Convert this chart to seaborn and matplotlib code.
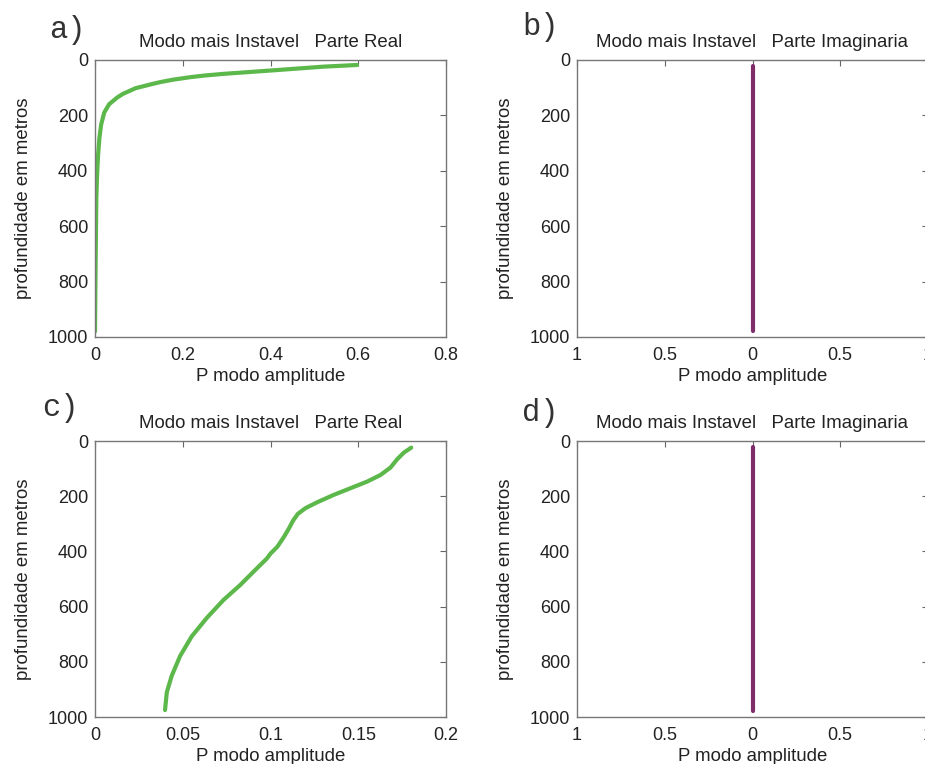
import numpy as np
import pandas as pd
import matplotlib
matplotlib.use("Agg")
import matplotlib.pyplot as plt
import seaborn as sns

# painel a) parte real, modo mais instavel
depth_a = [18, 24, 38, 50, 56, 62, 71, 80, 88, 102, 110, 122, 135, 160, 190, 233, 282,
           344, 405, 500, 650, 800, 980]
amp_a = [0.597, 0.521, 0.40, 0.293, 0.25, 0.217, 0.178, 0.148, 0.127, 0.092, 0.081,
         0.064, 0.051, 0.032, 0.021, 0.014, 0.010, 0.007, 0.005, 0.003, 0.002, 0.001, 0.0]

# painel c) parte real
depth_c = [24, 42, 66, 96, 123, 147, 171, 195, 222, 243, 264, 288, 318, 348, 384,
           408, 426, 468, 522, 576, 641, 708, 779, 851, 911, 975]
amp_c = [0.1802, 0.1760, 0.1722, 0.1684, 0.1627, 0.1551, 0.1456, 0.1361, 0.1266,
         0.1200, 0.1156, 0.1129, 0.1104, 0.1076, 0.1038, 0.1000, 0.0979, 0.0912,
         0.0827, 0.0732, 0.0637, 0.0551, 0.0485, 0.0437, 0.0409, 0.0399]

# paineis b) e d) parte imaginaria (nula)
depth_im = [20, 980]
amp_im = [0.0, 0.0]

yticks = [0, 200, 400, 600, 800, 1000]
xticks_a = [0, 0.2, 0.4, 0.6, 0.8]
xticks_c = [0, 0.05, 0.1, 0.15, 0.2]
xticks_im = [-1, -0.5, 0, 0.5, 1]
xticklabels_im = ["1", "0.5", "0", "0.5", "1"]

title_real = "Modo mais Instavel   Parte Real"
title_imag = "Modo mais Instavel   Parte Imaginaria"

sns.set_style("white")
plt.rcParams["font.family"] = ["Liberation Sans", "DejaVu Sans"]

green = "#5cb84a"
purple = "#7f2c6a"

fig = plt.figure(figsize=(9.25, 7.64), dpi=100)
W, H = 925, 764


def add_ax(left, top, right, bottom):
    return fig.add_axes([left / W, (H - bottom) / H, (right - left) / W, (bottom - top) / H])


ax_a = add_ax(95, 60, 446, 337)
ax_b = add_ax(577, 60, 928, 337)
ax_c = add_ax(95, 441, 446, 717)
ax_d = add_ax(577, 441, 928, 717)

kw = dict(sort=False, estimator=None, linewidth=3.0,
          solid_joinstyle="round", solid_capstyle="round")
sns.lineplot(x=amp_a, y=depth_a, color=green, ax=ax_a, **kw)
sns.lineplot(x=amp_c, y=depth_c, color=green, ax=ax_c, **kw)
sns.lineplot(x=amp_im, y=depth_im, color=purple, ax=ax_b, **kw)
sns.lineplot(x=amp_im, y=depth_im, color=purple, ax=ax_d, **kw)

# (eixo, ticks x, rotulos x, limites x, titulo, letra, posicao da letra)
setup = [
    (ax_a, xticks_a, None, (0, 0.8), title_real, "a)", (-0.131, 1.11)),
    (ax_b, xticks_im, xticklabels_im, (-1, 1), title_imag, "b)", (-0.157, 1.12)),
    (ax_c, xticks_c, None, (0, 0.2), title_real, "c)", (-0.151, 1.12)),
    (ax_d, xticks_im, xticklabels_im, (-1, 1), title_imag, "d)", (-0.157, 1.10)),
]

for ax, xt, xl, xlim, title, tag, tagpos in setup:
    ax.set_xlim(*xlim)
    ax.set_ylim(1000, 0)
    ax.set_xticks(xt)
    if xl is not None:
        ax.set_xticklabels(xl)
    else:
        ax.set_xticklabels([f"{v:g}" for v in xt])
    ax.set_yticks(yticks)
    ax.tick_params(direction="in", top=True, right=True, length=4, width=0.8,
                   color="#666666", labelsize=13, labelcolor="#222222")
    ax.tick_params(axis="x", pad=7)
    ax.tick_params(axis="y", pad=5)
    for s in ax.spines.values():
        s.set_color("#777777")
        s.set_linewidth(1.0)
    ax.set_xlabel("P modo amplitude", fontsize=13.4, color="#222222", labelpad=3)
    ax.set_ylabel("profundidade em metros", fontsize=13.4, color="#222222", labelpad=11)
    ax.set_title(title, fontsize=13.4, color="#222222", pad=9)
    ax.text(tagpos[0], tagpos[1], tag, transform=ax.transAxes, fontsize=22,
            family=["Liberation Mono", "DejaVu Sans Mono"], color="#333333",
            ha="left", va="center")

fig.savefig("out.png", dpi=100)
